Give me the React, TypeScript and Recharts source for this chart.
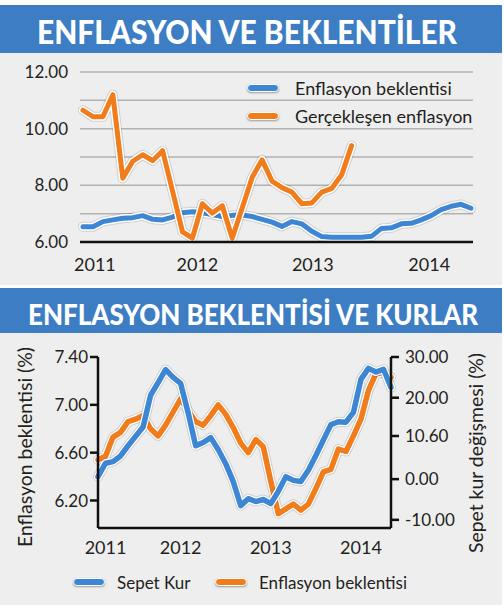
import React from 'react';
import { LineChart, Line, XAxis, YAxis, CartesianGrid, Legend } from 'recharts';

// ---------- DATA ----------
// Top chart: monthly index 0..39
const topExpectation = [
  6.54, 6.54, 6.72, 6.78, 6.84, 6.86, 6.93, 6.80, 6.78, 6.88,
  7.03, 7.07, 7.03, 6.97, 6.90, 6.94, 6.95, 6.90, 6.80, 6.70,
  6.55, 6.72, 6.64, 6.38, 6.19, 6.17, 6.17, 6.17, 6.17, 6.20,
  6.48, 6.50, 6.64, 6.66, 6.78, 6.93, 7.14, 7.26, 7.33, 7.19,
];
const topActual = [
  10.65, 10.42, 10.42, 11.2, 8.25, 8.85, 9.08, 8.87, 9.22, 7.8,
  6.36, 6.14, 7.35, 7.02, 7.28, 6.13, 7.2, 8.28, 8.9, 8.15,
  7.92, 7.76, 7.35, 7.38, 7.76, 7.89, 8.37, 9.4,
];
const topYearTicks = [1.2, 11.5, 23.1, 34.8];
const yearLabels = ['2011', '2012', '2013', '2014'];
const topYTicks = [6, 7, 8, 9, 10, 11, 12];

// Bottom chart: monthly index 0..39
const bottomExpectation = [
  6.54, 6.57, 6.73, 6.77, 6.86, 6.88, 6.91, 6.80, 6.74, 6.83,
  6.94, 7.05, 6.95, 6.86, 6.83, 6.91, 7.00, 6.92, 6.81, 6.68,
  6.60, 6.71, 6.65, 6.36, 6.09, 6.13, 6.17, 6.12, 6.17, 6.30,
  6.44, 6.46, 6.63, 6.61, 6.74, 6.88, 7.12, 7.26, 7.27, 7.23,
];
const bottomBasket = [
  0.6, 3.9, 4.3, 5.7, 8.2, 10.5, 12.8, 20.6, 23.7, 26.9,
  25.0, 23.5, 16.3, 8.2, 9.0, 10.2, 7.3, 3.8, -0.6, -6.5,
  -4.8, -5.5, -5.0, -6.0, -3.0, 0.6, -0.3, -0.6, 2.2, 5.8,
  9.6, 13.4, 14.1, 14.0, 16.4, 24.5, 27.2, 26.3, 27.0, 22.5,
];
const bottomYearTicks = [1, 11, 23, 35];
const leftTicks = [6.2, 6.6, 7.0, 7.4];
const rightTicks = [-10, 0, 10.6, 20, 30];

const topNames = { expectation: 'Enflasyon beklentisi', actual: 'Gerçekleşen enflasyon' };
const bottomNames = { basket: 'Sepet Kur', expectation: 'Enflasyon beklentisi' };
const topLegendOrder = ['Enflasyon beklentisi', 'Gerçekleşen enflasyon'];
const bottomLegendOrder = ['Sepet Kur', 'Enflasyon beklentisi'];

const topData = topExpectation.map((v, i) => ({
  i,
  expectation: v,
  actual: i < topActual.length ? topActual[i] : null,
}));
const bottomData = bottomExpectation.map((v, i) => ({
  i,
  expectation: v,
  basket: bottomBasket[i],
}));

// ---------- STYLE ----------
const FONT = 'Lato, "Noto Sans", sans-serif';
const BLUE = '#3d86d3';
const ORANGE = '#f07c1c';
const BANNER = '#3c7dc3';
const PANEL = '#eeeeee';
const INK = '#231f20';

const yearFmt = (ticks: number[]) => (v: number) => {
  const k = ticks.indexOf(v);
  return k >= 0 ? yearLabels[k] : '';
};

const pick = (payload: any[], order: string[]) =>
  (payload || [])
    .filter((it: any) => it.type !== 'none' && order.indexOf(it.value) >= 0)
    .sort((a: any, b: any) => order.indexOf(a.value) - order.indexOf(b.value));

const Swatch = ({ color, width }: { color: string; width: number }) => (
  <div
    style={{
      width,
      height: 6,
      borderRadius: 4,
      background: color,
      border: '1.5px solid #fff',
      boxShadow: '0 1px 2px rgba(0,0,0,0.35)',
      flex: 'none',
    }}
  />
);

const TopLegend = (props: any) => {
  const items = pick(props.payload, topLegendOrder);
  return (
    <div style={{ fontFamily: FONT, fontSize: 18, color: INK }}>
      {items.map((it: any) => (
        <div key={it.value} style={{ display: 'flex', alignItems: 'center', height: 28 }}>
          <Swatch color={it.color} width={30} />
          <span style={{ marginLeft: 16, whiteSpace: 'nowrap' }}>{it.value}</span>
        </div>
      ))}
    </div>
  );
};

const BottomLegend = (props: any) => {
  const items = pick(props.payload, bottomLegendOrder);
  return (
    <div style={{ fontFamily: FONT, fontSize: 17, color: INK, display: 'flex', alignItems: 'center', height: 24 }}>
      {items.map((it: any, k: number) => (
        <div key={it.value} style={{ display: 'flex', alignItems: 'center', width: k === 0 ? 142 : 220 }}>
          <Swatch color={it.color} width={30} />
          <span style={{ marginLeft: 12, whiteSpace: 'nowrap' }}>{it.value}</span>
        </div>
      ))}
    </div>
  );
};

const outline = (dataKey: string, yAxisId?: string) => [
  <Line
    key={dataKey + '-sh'}
    yAxisId={yAxisId}
    dataKey={dataKey}
    name={dataKey + '-shadow'}
    type="linear"
    stroke="rgba(0,0,0,0.13)"
    strokeWidth={10}
    dot={false}
    activeDot={false}
    legendType="none"
    isAnimationActive={false}
    strokeLinejoin="round"
    strokeLinecap="round"
  />,
  <Line
    key={dataKey + '-wh'}
    yAxisId={yAxisId}
    dataKey={dataKey}
    name={dataKey + '-outline'}
    type="linear"
    stroke="#ffffff"
    strokeWidth={8}
    dot={false}
    activeDot={false}
    legendType="none"
    isAnimationActive={false}
    strokeLinejoin="round"
    strokeLinecap="round"
  />,
];

export default function App() {
  return (
    <div
      style={{
        position: 'absolute',
        left: 0,
        top: 0,
        width: 504,
        height: 611,
        background: '#ffffff',
        overflow: 'hidden',
        fontFamily: FONT,
      }}
    >
      {/* panels */}
      <div style={{ position: 'absolute', left: 0, top: 53, width: 502, height: 232, background: PANEL }} />
      <div style={{ position: 'absolute', left: 0, top: 333, width: 502, height: 272, background: PANEL }} />

      {/* top chart */}
      <div style={{ position: 'absolute', left: 0, top: 53 }}>
        <LineChart width={504} height={232} data={topData} margin={{ top: 19, right: 31, bottom: 13, left: 20 }}>
          <CartesianGrid vertical={false} stroke="#b2b2b2" strokeWidth={1.5} />
          <XAxis
            type="number"
            dataKey="i"
            domain={[0, 39]}
            ticks={topYearTicks}
            tickFormatter={yearFmt(topYearTicks)}
            height={30}
            padding={{ left: 3, right: 2 }}
            axisLine={{ stroke: '#111', strokeWidth: 2.5 }}
            tickLine={false}
            tickSize={0}
            tickMargin={16}
            tick={{ fill: INK, fontSize: 18, fontFamily: FONT }}
            interval={0}
          />
          <YAxis
            domain={[6, 12]}
            ticks={topYTicks}
            tickFormatter={(v: number) => (v % 2 === 0 ? v.toFixed(2) : '')}
            width={60}
            axisLine={false}
            tickLine={false}
            tickSize={0}
            tickMargin={12}
            tick={{ fill: INK, fontSize: 17, fontFamily: FONT }}
            interval={0}
          />
          {outline('expectation')}
          <Line
            dataKey="expectation"
            name={topNames.expectation}
            type="linear"
            stroke={BLUE}
            strokeWidth={5}
            dot={false}
            activeDot={false}
            isAnimationActive={false}
            strokeLinejoin="round"
            strokeLinecap="round"
          />
          {outline('actual')}
          <Line
            dataKey="actual"
            name={topNames.actual}
            type="linear"
            stroke={ORANGE}
            strokeWidth={5}
            dot={false}
            activeDot={false}
            isAnimationActive={false}
            strokeLinejoin="round"
            strokeLinecap="round"
          />
          <Legend
            layout="horizontal"
            verticalAlign="middle"
            align="center"
            content={TopLegend}
            wrapperStyle={{ top: 21, left: 247, width: 250, height: 56 }}
          />
        </LineChart>
      </div>

      {/* bottom chart */}
      <div style={{ position: 'absolute', left: 0, top: 333 }}>
        <LineChart width={504} height={272} data={bottomData} margin={{ top: 24, right: 43, bottom: 47, left: 38 }}>
          <XAxis
            type="number"
            dataKey="i"
            domain={[0, 39]}
            ticks={bottomYearTicks}
            tickFormatter={yearFmt(bottomYearTicks)}
            height={30}
            axisLine={{ stroke: '#111', strokeWidth: 2.5 }}
            tickLine={false}
            tickSize={0}
            tickMargin={13}
            tick={{ fill: INK, fontSize: 18, fontFamily: FONT }}
            interval={0}
          />
          <YAxis
            yAxisId="left"
            domain={[5.97, 7.4]}
            ticks={leftTicks}
            tickFormatter={(v: number) => v.toFixed(2)}
            width={60}
            axisLine={{ stroke: '#111', strokeWidth: 2.5 }}
            tickLine={{ stroke: '#111', strokeWidth: 2.5 }}
            tickSize={8}
            tickMargin={2}
            tick={{ fill: INK, fontSize: 17, fontFamily: FONT }}
            interval={0}
            allowDataOverflow
          />
          <YAxis
            yAxisId="right"
            orientation="right"
            domain={[-12, 30]}
            ticks={rightTicks}
            tickFormatter={(v: number) => v.toFixed(2)}
            width={70}
            axisLine={{ stroke: '#111', strokeWidth: 2.5 }}
            tickLine={{ stroke: '#111', strokeWidth: 2.5 }}
            tickSize={8}
            tickMargin={6}
            tick={{ fill: INK, fontSize: 17, fontFamily: FONT }}
            interval={0}
            allowDataOverflow
          />
          {outline('expectation', 'left')}
          <Line
            yAxisId="left"
            dataKey="expectation"
            name={bottomNames.expectation}
            type="linear"
            stroke={ORANGE}
            strokeWidth={5.5}
            dot={false}
            activeDot={false}
            isAnimationActive={false}
            strokeLinejoin="round"
            strokeLinecap="round"
          />
          {outline('basket', 'right')}
          <Line
            yAxisId="right"
            dataKey="basket"
            name={bottomNames.basket}
            type="linear"
            stroke={BLUE}
            strokeWidth={5.5}
            dot={false}
            activeDot={false}
            isAnimationActive={false}
            strokeLinejoin="round"
            strokeLinecap="round"
          />
          <Legend
            layout="horizontal"
            verticalAlign="middle"
            align="center"
            content={BottomLegend}
            wrapperStyle={{ top: 237, left: 73, width: 400, height: 24 }}
          />
        </LineChart>
      </div>

      {/* banners and axis titles */}
      <svg
        width={504}
        height={611}
        style={{ position: 'absolute', left: 0, top: 0, pointerEvents: 'none' }}
      >
        <rect x={0} y={5} width={502} height={48} fill={BANNER} />
        <text
          x={247}
          y={43.5}
          textAnchor="middle"
          fill="#ffffff"
          fontFamily={FONT}
          fontWeight={900}
          fontSize={32}
          textLength={420}
          lengthAdjust="spacingAndGlyphs"
        >
          ENFLASYON VE BEKLENTİLER
        </text>
        <rect x={0} y={288} width={502} height={45} fill={BANNER} />
        <text
          x={253}
          y={325}
          textAnchor="middle"
          fill="#ffffff"
          fontFamily={FONT}
          fontWeight={900}
          fontSize={28}
          textLength={450}
          lengthAdjust="spacingAndGlyphs"
        >
          ENFLASYON BEKLENTİSİ VE KURLAR
        </text>
        <text
          transform="translate(32,447) rotate(-90)"
          textAnchor="middle"
          fill={INK}
          fontFamily={FONT}
          fontSize={19}
          textLength={200}
          lengthAdjust="spacingAndGlyphs"
        >
          Enflasyon beklentisi (%)
        </text>
        <text
          transform="translate(483,453) rotate(-90)"
          textAnchor="middle"
          fill={INK}
          fontFamily={FONT}
          fontSize={19}
          textLength={200}
          lengthAdjust="spacingAndGlyphs"
        >
          Sepet kur değişmesi (%)
        </text>
      </svg>
    </div>
  );
}
